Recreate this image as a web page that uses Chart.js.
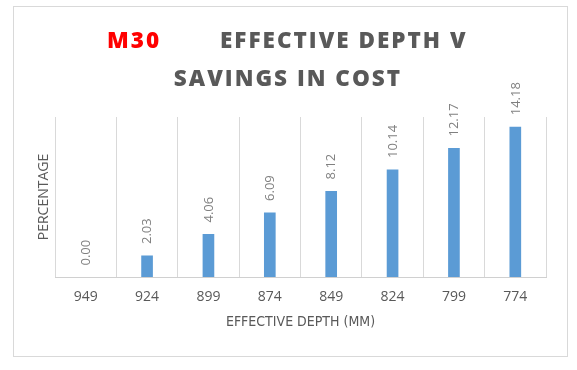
<!DOCTYPE html>
<html>
<head>
<meta charset="utf-8">
<style>
  html, body { margin: 0; padding: 0; background: #ffffff; }
  #wrap { width: 577px; height: 370px; }
</style>
<script src="https://cdn.jsdelivr.net/npm/chart.js@4"></script>
</head>
<body>
<div id="wrap"><canvas id="c" width="577" height="370"></canvas></div>
<script>
const categories = ["949", "924", "899", "874", "849", "824", "799", "774"];
const savings = [0.00, 2.03, 4.06, 6.09, 8.12, 10.14, 12.17, 14.18];
const titleGrade = "M30";
const titleLine1 = "EFFECTIVE DEPTH V";
const titleLine2 = "SAVINGS IN COST";
const xAxisTitle = "EFFECTIVE DEPTH (MM)";
const yAxisTitle = "PERCENTAGE";

const framePlugin = {
  id: 'frame',
  beforeDraw(chart) {
    const ctx = chart.ctx;
    ctx.save();
    ctx.fillStyle = '#ffffff';
    ctx.fillRect(0, 0, chart.width, chart.height);
    ctx.strokeStyle = '#d9d9d9';
    ctx.lineWidth = 1;
    ctx.strokeRect(13.5, 6.5, 554, 350);
    ctx.restore();
  },
  afterDraw(chart) {
    const ctx = chart.ctx;
    ctx.save();
    ctx.textBaseline = 'alphabetic';
    ctx.textAlign = 'left';
    ctx.font = '800 22.5px "Open Sans"';
    ctx.letterSpacing = '2px';
    ctx.fillStyle = '#ff0000';
    ctx.fillText(titleGrade, 107, 47.5);
    ctx.fillStyle = '#595959';
    ctx.fillText(titleLine1, 220, 47.5);
    const w2 = ctx.measureText(titleLine2).width;
    ctx.fillText(titleLine2, 288 - w2 / 2, 85.5);
    ctx.restore();
  }
};

const labelPlugin = {
  id: 'barLabels',
  afterDatasetsDraw(chart) {
    const ctx = chart.ctx;
    const meta = chart.getDatasetMeta(0);
    ctx.save();
    ctx.font = '13px "Open Sans"';
    ctx.fillStyle = '#808080';
    ctx.textAlign = 'left';
    ctx.textBaseline = 'middle';
    meta.data.forEach((bar, i) => {
      ctx.save();
      ctx.translate(bar.x + 0.5, bar.y - 11.5);
      ctx.rotate(-Math.PI / 2);
      ctx.fillText(savings[i].toFixed(2), 0, 0);
      ctx.restore();
    });
    ctx.restore();
  }
};

new Chart(document.getElementById('c'), {
  type: 'bar',
  data: {
    labels: categories,
    datasets: [{
      data: savings,
      backgroundColor: '#5b9bd5',
      borderWidth: 0,
      categoryPercentage: 1,
      barPercentage: 0.19
    }]
  },
  options: {
    responsive: false,
    animation: false,
    devicePixelRatio: 1,
    layout: { padding: { left: 30, right: 31, top: 117, bottom: 39 } },
    plugins: {
      legend: { display: false },
      tooltip: { enabled: false },
      title: { display: false }
    },
    scales: {
      x: {
        offset: true,
        grid: { display: true, offset: true, color: '#d9d9d9', lineWidth: 1, drawTicks: false },
        border: { display: true, color: '#d0d0d0', width: 1 },
        ticks: { color: '#595959', font: { family: '"Open Sans"', size: 14 }, padding: 12, maxRotation: 0 },
        title: { display: true, text: xAxisTitle, color: '#595959', padding: 0,
                 font: { family: '"Liberation Sans Narrow", "DejaVu Sans Condensed", sans-serif', size: 14 } },
        afterFit(scale) { scale.height = 54; }
      },
      y: {
        min: 0,
        max: 15.1,
        grid: { display: false },
        border: { display: false },
        ticks: { display: false },
        title: { display: true, text: yAxisTitle, color: '#595959', padding: { top: 5.6, bottom: 0 },
                 font: { family: '"Open Sans"', size: 14 } },
        afterFit(scale) { scale.width = 25; }
      }
    }
  },
  plugins: [framePlugin, labelPlugin]
});
</script>
</body>
</html>
